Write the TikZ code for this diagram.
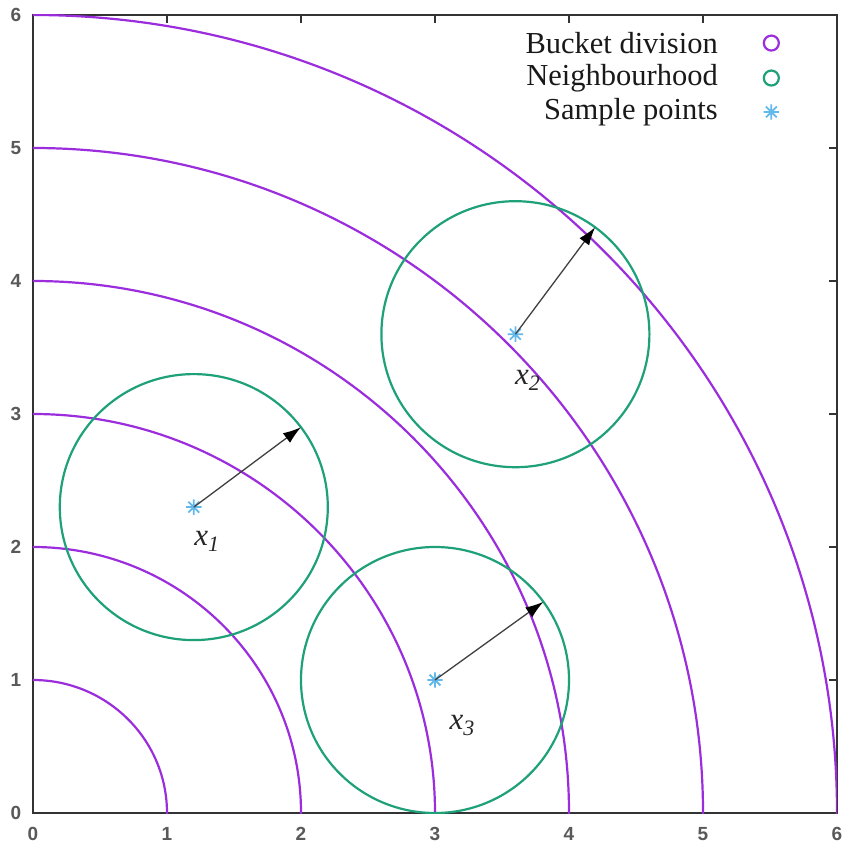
\documentclass[tikz,border=0pt]{standalone}
\usepackage{fontspec}
\setmainfont{Liberation Serif}
\newfontfamily\tickfont{Liberation Sans}
\usetikzlibrary{calc,arrows.meta}
\definecolor{bucket}{RGB}{155,45,220}
\definecolor{neigh}{RGB}{30,160,120}
\definecolor{samp}{RGB}{100,185,235}
\tikzset{
  frame/.style={draw=black!80,line width=2.6pt},
  tickmark/.style={draw=black!80,line width=1.5pt},
  ticklab/.style={font=\tickfont\bfseries\fontsize{19}{19}\selectfont,text=black!65,inner sep=0pt},
  bucketline/.style={draw=bucket,line width=2.2pt},
  neighline/.style={draw=neigh,line width=2.2pt},
  sampmark/.style={circle,inner sep=0pt,minimum size=15pt},
  sampline/.style={draw=samp,line width=1.8pt},
  arr/.style={draw=black!75,line width=1.3pt,-{Latex[length=18pt,width=12pt,fill=black,color=black]}},
  legtext/.style={font=\fontsize{30.5}{30.5}\selectfont,anchor=east,inner sep=0pt,text=black!90},
  legcirc/.style={circle,line width=2.2pt,inner sep=0pt,minimum size=15pt},
  ptlabel/.style={font=\itshape\fontsize{31}{31}\selectfont,inner sep=0pt,text=black!85},
}
\newcommand{\starat}[1]{\draw[sampline] (#1.north)--(#1.south) (#1.east)--(#1.west) (#1.north east)--(#1.south west) (#1.north west)--(#1.south east);}
\begin{document}
\begin{tikzpicture}[x=134pt,y=133pt]
\useasboundingbox (-33pt,-34pt) rectangle (821pt,813pt);
\fill[white] (-33pt,-34pt) rectangle (821pt,813pt);
% frame
\coordinate (o) at (0,0);
\coordinate (tr) at (6,6);
\draw[frame] (o) rectangle (tr);
% ticks and labels
\foreach \i in {0,...,6}{
  \draw[tickmark] (\i,0) -- ++(0,8pt);
  \draw[tickmark] (\i,6) -- ++(0,-8pt);
  \draw[tickmark] (0,\i) -- ++(8pt,0);
  \draw[tickmark] (6,\i) -- ++(-8pt,0);
  \node[ticklab] (xl\i) at ($(\i,0)+(0,-21pt)$) {\i};
  \node[ticklab] (yl\i) at ($(0,\i)+(-17pt,0)$) {\i};
}
% bucket arcs
\begin{scope}
  \clip (o) rectangle (tr);
  \foreach \r in {1,...,6}{
    \draw[bucketline] (o) circle (\r);
  }
\end{scope}
% sample points
\node[sampmark] (x1) at (1.2,2.3) {};
\node[sampmark] (x2) at (3.6,3.6) {};
\node[sampmark] (x3) at (3.0,1.0) {};
% neighbourhoods
\begin{scope}
  \clip (o) rectangle (tr);
  \draw[neighline] (x1.center) circle (1);
  \draw[neighline] (x2.center) circle (1);
  \draw[neighline] (x3.center) circle (1);
\end{scope}
\starat{x1}\starat{x2}\starat{x3}
% arrows
\coordinate (e1) at ($(x1.center)+(36.9:1)$);
\coordinate (e2) at ($(x2.center)+(53.5:1)$);
\coordinate (e3) at ($(x3.center)+(36.0:1)$);
\draw[arr] (x1.center) -- (e1);
\draw[arr] (x2.center) -- (e2);
\draw[arr] (x3.center) -- (e3);
% point labels
\node[ptlabel] (l1) at ($(x1.center)+(13pt,-34pt)$) {x\raisebox{-6pt}{\fontsize{22}{22}\selectfont 1}};
\node[ptlabel] (l2) at ($(x2.center)+(12pt,-46pt)$) {x\raisebox{-6pt}{\fontsize{22}{22}\selectfont 2}};
\node[ptlabel] (l3) at ($(x3.center)+(27pt,-45pt)$) {x\raisebox{-6pt}{\fontsize{22}{22}\selectfont 3}};
% legend
\node[legtext] (lt1) at (5.112,5.789) {Bucket division};
\node[legtext] (lt2) at (5.112,5.526) {Neighbourhood};
\node[legtext] (lt3) at (5.112,5.271) {Sample points};
\node[legcirc,draw=bucket] (ls1) at (5.51,5.789) {};
\node[legcirc,draw=neigh] (ls2) at (5.51,5.526) {};
\node[sampmark] (ls3) at (5.51,5.271) {};
\starat{ls3}
\end{tikzpicture}
\end{document}
